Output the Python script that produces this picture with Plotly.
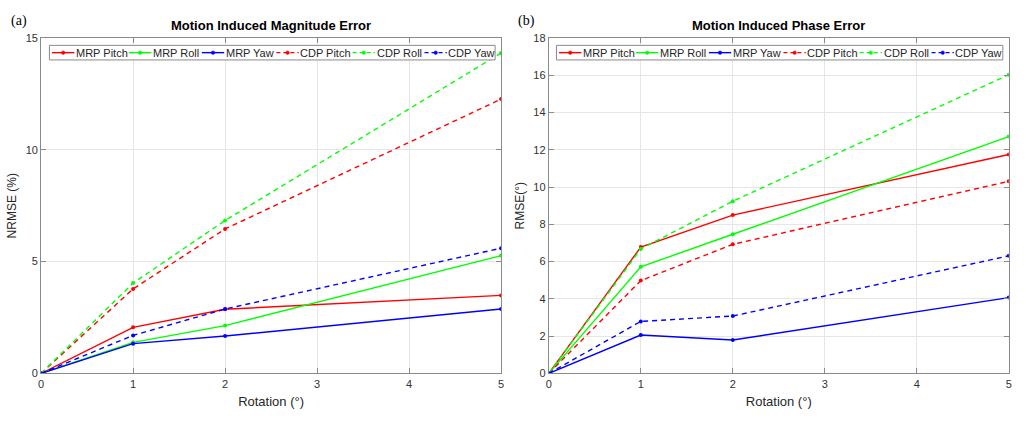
import plotly.graph_objects as go

rotation = [0, 1, 2, 5]
series_names = ["MRP Pitch", "MRP Roll", "MRP Yaw", "CDP Pitch", "CDP Roll", "CDP Yaw"]
colors = ["#ff0000", "#00ff00", "#0000ff", "#ff0000", "#00ff00", "#0000ff"]
dashes = ["solid", "solid", "solid", "dash", "dash", "dash"]

# (a) Magnitude error NRMSE (%)
mag_mrp_pitch = [0, 2.06, 2.87, 3.49]
mag_mrp_roll = [0, 1.39, 2.14, 5.27]
mag_mrp_yaw = [0, 1.33, 1.67, 2.88]
mag_cdp_pitch = [0, 3.78, 6.46, 12.27]
mag_cdp_roll = [0, 4.04, 6.84, 14.33]
mag_cdp_yaw = [0, 1.70, 2.88, 5.60]

# (b) Phase error RMSE (deg)
ph_mrp_pitch = [0, 6.78, 8.50, 11.75]
ph_mrp_roll = [0, 5.72, 7.47, 12.71]
ph_mrp_yaw = [0, 2.06, 1.79, 4.07]
ph_cdp_pitch = [0, 4.98, 6.93, 10.31]
ph_cdp_roll = [0, 6.68, 9.24, 16.03]
ph_cdp_yaw = [0, 2.79, 3.08, 6.31]

mag = [mag_mrp_pitch, mag_mrp_roll, mag_mrp_yaw, mag_cdp_pitch, mag_cdp_roll, mag_cdp_yaw]
ph = [ph_mrp_pitch, ph_mrp_roll, ph_mrp_yaw, ph_cdp_pitch, ph_cdp_roll, ph_cdp_yaw]

W, H = 1026, 428
DASH = "5px,4px"

fig = go.Figure()
for name, c, d, ys in zip(series_names, colors, dashes, mag):
    fig.add_trace(go.Scatter(x=rotation, y=ys, name=name, mode="lines+markers", showlegend=False,
                             line=dict(color=c, width=1.4, dash="solid" if d == "solid" else DASH),
                             marker=dict(size=4, color=c), xaxis="x", yaxis="y"))
for name, c, d, ys in zip(series_names, colors, dashes, ph):
    fig.add_trace(go.Scatter(x=rotation, y=ys, name=name, mode="lines+markers", showlegend=False,
                             line=dict(color=c, width=1.4, dash="solid" if d == "solid" else DASH),
                             marker=dict(size=4, color=c), xaxis="x2", yaxis="y2"))

font_family = "Liberation Sans, Arial, sans-serif"
ax_common = dict(showline=True, linecolor="#8a8a8a", linewidth=1, mirror="allticks",
                 ticks="inside", ticklen=5, tickcolor="#8a8a8a",
                 showgrid=True, gridcolor="#e6e6e6", gridwidth=1, zeroline=False,
                 tickfont=dict(size=11, color="#333333", family=font_family))

shapes = []
annotations = [
    dict(text="<b>Motion Induced Magnitude Error</b>", x=0.263, y=1 - 30 / H, xref="paper", yref="paper",
         xanchor="center", yanchor="bottom", showarrow=False, font=dict(size=13, color="#000000")),
    dict(text="<b>Motion Induced Phase Error</b>", x=0.7605, y=1 - 30 / H, xref="paper", yref="paper",
         xanchor="center", yanchor="bottom", showarrow=False, font=dict(size=13, color="#000000")),
    dict(text="(a)", x=6 / W, y=1 - 5 / H, xref="paper", yref="paper", xanchor="left", yanchor="top",
         showarrow=False, font=dict(size=14, color="#000000", family="Liberation Serif, Times New Roman, serif")),
    dict(text="(b)", x=516 / W, y=1 - 5 / H, xref="paper", yref="paper", xanchor="left", yanchor="top",
         showarrow=False, font=dict(size=14, color="#000000", family="Liberation Serif, Times New Roman, serif")),
]

# Custom MATLAB-style single-row legend boxes (pixel layout)
item_offsets = [2.6, 80.0, 153.3, 228.3, 305.0, 377.3]
sample_len = 22.5
for box_left, box_right in [(46.7, 495.0), (556.7, 1005.7)]:
    top, bot = 40.5, 55.5
    yc = (top + bot) / 2
    shapes.append(dict(type="rect", xref="paper", yref="paper",
                       x0=box_left / W, x1=box_right / W, y0=1 - bot / H, y1=1 - top / H,
                       line=dict(color="#8a8a8a", width=1), fillcolor="white", layer="above"))
    for off, name, c, d in zip(item_offsets, series_names, colors, dashes):
        x0 = box_left + off
        x1 = x0 + sample_len
        shapes.append(dict(type="line", xref="paper", yref="paper",
                           x0=x0 / W, x1=x1 / W, y0=1 - yc / H, y1=1 - yc / H, layer="above",
                           line=dict(color=c, width=1.4, dash="solid" if d == "solid" else "4px,3px")))
        xm = (x0 + x1) / 2
        shapes.append(dict(type="circle", xref="paper", yref="paper", layer="above",
                           x0=(xm - 1.8) / W, x1=(xm + 1.8) / W, y0=1 - (yc + 1.8) / H, y1=1 - (yc - 1.8) / H,
                           line=dict(color=c, width=0.5), fillcolor=c))
        annotations.append(dict(text=name, x=(x1 + 0.5) / W, y=1 - yc / H, xref="paper", yref="paper",
                                xanchor="left", yanchor="middle", showarrow=False,
                                font=dict(size=11, color="#262626"), borderpad=0, xshift=0))

fig.update_layout(
    width=W, height=H,
    margin=dict(l=0, r=0, t=0, b=0),
    plot_bgcolor="white", paper_bgcolor="white",
    font=dict(family=font_family, color="#262626"),
    showlegend=False,
    xaxis=dict(domain=[38.3 / W, 501.0 / W], range=[0, 5], tickvals=[0, 1, 2, 3, 4, 5],
               title=dict(text="Rotation (°)", font=dict(size=13), standoff=8), anchor="y", **ax_common),
    yaxis=dict(domain=[1 - 378 / H, 1 - 33 / H], range=[0, 15], tickvals=[0, 5, 10, 15],
               title=dict(text="NRMSE (%)", font=dict(size=12), standoff=6), anchor="x", **ax_common),
    xaxis2=dict(domain=[549.0 / W, 1011.7 / W], range=[0, 5], tickvals=[0, 1, 2, 3, 4, 5],
                title=dict(text="Rotation (°)", font=dict(size=13), standoff=8), anchor="y2", **ax_common),
    yaxis2=dict(domain=[1 - 378 / H, 1 - 33 / H], range=[0, 18], tickvals=list(range(0, 19, 2)),
                title=dict(text="RMSE(°)", font=dict(size=12), standoff=6), anchor="x2", **ax_common),
    shapes=shapes,
    annotations=annotations,
)

css_fix = ("var s=document.createElement('style');"
           "s.textContent='html,body{margin:0;padding:0;overflow:hidden;width:1026px;height:428px;}"
           "div{line-height:0;}';"
           "document.head.appendChild(s);")
fig.write_html("out.html", config={"displayModeBar": False}, post_script=css_fix)
